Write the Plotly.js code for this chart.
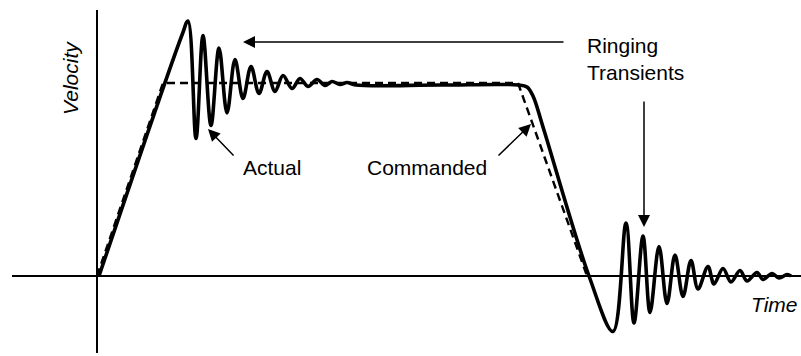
<!DOCTYPE html>
<html>
<head>
<meta charset="utf-8">
<script src="https://cdn.plot.ly/plotly-3.0.1.min.js"></script>
<style>
  html, body { margin: 0; padding: 0; background: #fff; }
  #plotArea { width: 801px; height: 356px; }
</style>
</head>
<body>
<div id="plotArea"></div>
<script>
// Commanded velocity profile (trapezoid), arbitrary units
var cmdTime = [0, 66, 421, 490];
var cmdVel = [0, 193, 193, 0];

// Actual velocity: ramp, ringing, flat, ramp down, ringing again
// (peaks and troughs, smoothed with a spline)
var actTime = [2, 85, 91, 99, 106, 114, 122, 130, 138, 146,
  154, 162, 170, 178, 186, 195, 203, 211, 220, 228,
  235, 243, 250, 259, 343, 421, 430, 436, 446, 492,
  516, 529, 537, 546, 553, 562, 570, 578, 586, 594,
  601, 611, 617, 626, 634, 643, 650, 660, 666, 675,
  682, 690, 694];
var actVel = [0, 241, 255, 137.5, 240.5, 150.5, 228, 163, 216.5, 177.5,
  209.5, 182.5, 204.5, 184.5, 200.5, 187.5, 197.5, 189.5, 196.5, 190.5,
  194.5, 191.5, 193.5, 191, 191, 191, 189, 180, 149, 0,
  -55.5, 53, -47, 40, -36.5, 29.5, -27.5, 21, -20.5, 15.5,
  -13, 9.5, -8, 7.5, -6, 5.5, -5, 3.5, -3.5, 2.5,
  -2, 1.5, 0];

var commanded = {
  x: cmdTime,
  y: cmdVel,
  mode: "lines",
  line: { color: "#000", width: 2.4, dash: "8px,5px" },
  hoverinfo: "skip",
};

var actual = {
  x: actTime,
  y: actVel,
  mode: "lines",
  line: { color: "#000", width: 3.6, shape: "spline", smoothing: 1 },
  hoverinfo: "skip",
};

var txtFont = { family: "Liberation Sans, Arial, sans-serif", size: 21, color: "#000" };

// arrows only (no text)
function arrow(x, y, ax, ay) {
  return {
    x: x, y: y, ax: ax, ay: ay,
    xref: "x", yref: "y", axref: "x", ayref: "y",
    text: "", showarrow: true,
    arrowhead: 2, arrowsize: 1.6, arrowwidth: 1.5, arrowcolor: "#000",
    standoff: 0, startstandoff: 0,
  };
}

function label(x, y, text, xanchor, angle) {
  return {
    x: x, y: y, xref: "x", yref: "y",
    text: text, showarrow: false,
    xanchor: xanchor, yanchor: "middle",
    textangle: angle || 0,
    align: "left",
    font: txtFont,
  };
}

var layout = {
  width: 801,
  height: 356,
  margin: { l: 12, r: 0, t: 10, b: 3 },
  paper_bgcolor: "#fff",
  plot_bgcolor: "#fff",
  showlegend: false,
  xaxis: {
    range: [-85, 704],
    showgrid: false, showticklabels: false, ticks: "", showline: false,
    zeroline: true, zerolinecolor: "#000", zerolinewidth: 2.5,
  },
  yaxis: {
    range: [-77, 266],
    showgrid: false, showticklabels: false, ticks: "", showline: false,
    zeroline: true, zerolinecolor: "#000", zerolinewidth: 2.8,
  },
  annotations: [
    arrow(146, 234, 468, 234),
    arrow(547, 49, 547, 176),
    arrow(111, 147, 138, 119),
    arrow(434, 152, 400, 119),
    label(175, 109, "Actual", "center"),
    label(330, 109, "Commanded", "center"),
    label(488, 217, "Ringing<br>Transients", "left"),
    label(-27, 198, "<i>Velocity</i>", "center", -90),
    label(652, -28, "<i>Time</i>", "left"),
  ],
};

Plotly.newPlot("plotArea", [commanded, actual], layout, { displayModeBar: false, staticPlot: true });
</script>
</body>
</html>
